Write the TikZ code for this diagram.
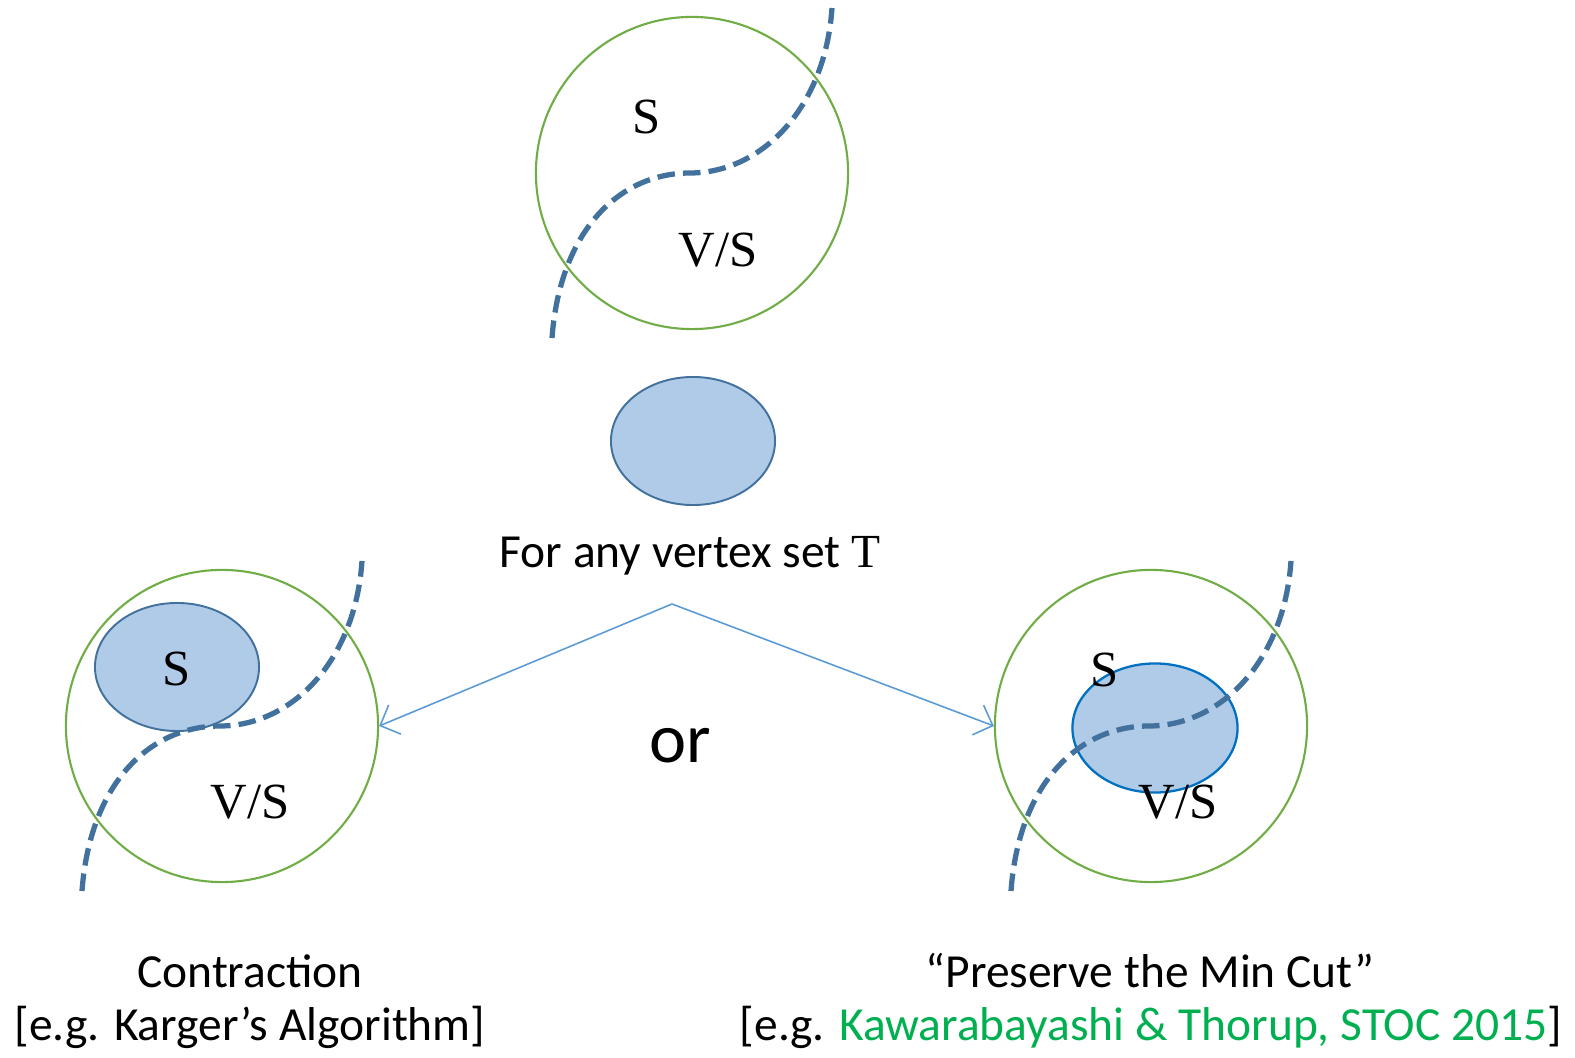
\documentclass[tikz,border=0pt]{standalone}
\usepackage{fontspec}
\setmainfont{Liberation Serif}
\newfontfamily\labelsans{Carlito}
\usetikzlibrary{shapes.geometric,arrows.meta}
\definecolor{ringgreen}{HTML}{70AD47}
\definecolor{cutblue}{HTML}{41719C}
\definecolor{blobfill}{HTML}{AFCBE8}
\definecolor{blobedge}{HTML}{0070C0}
\definecolor{arrowblue}{HTML}{5B9BD5}
\definecolor{refgreen}{HTML}{00B050}
\begin{document}
\begin{tikzpicture}[x=0.01cm,y=-0.01cm,
  ring/.style={circle,draw=ringgreen,line width=0.6pt,minimum size=3.12cm,inner sep=0pt},
  blob/.style={ellipse,draw=cutblue,fill=blobfill,line width=0.55pt,minimum width=1.64cm,minimum height=1.28cm,inner sep=0pt},
  cutline/.style={draw=cutblue,line width=1.5pt,dash pattern=on 5pt off 2.3pt},
  cutpath/.pic={\draw[cutline] (-140,165) .. controls (-132,57) and (-72,0) .. (-2,0)
                  .. controls (68,0) and (133,-63) .. (140,-165);},
  setlabel/.style={font=\fontsize{14.4}{17}\selectfont},
  caption/.style={font=\labelsans\fontsize{13.5}{16}\selectfont,anchor=base},
  choice/.style={draw=arrowblue,line width=0.45pt,-{Straight Barb[length=4.5pt,width=9pt]}}
]
\useasboundingbox (0,0) rectangle (1575,1058);

% top: a cut (S, V/S) of the whole graph
\node[ring] (top) at (692,173) {};
\pic at (top.center) {cutpath};
\node[setlabel] (topS) at (647,117) {S};
\node[setlabel] (topVS) at (718,250) {V/S};

% the vertex set T
\node[blob] (T) at (693,441) {};
\node[caption] (tlabel) at (690,568) {For any vertex set {\rmfamily T}};

% left: T lies on one side of the cut
\node[ring] (left) at (222,726) {};
\node[blob] (leftT) at (177,667) {};
\pic at (left.center) {cutpath};
\node[setlabel] (leftS) at (177,669) {S};
\node[setlabel] (leftVS) at (250,802) {V/S};

% right: the cut splits T
\node[ring] (right) at (1151,726) {};
\node[blob,draw=blobedge,line width=0.65pt,minimum width=1.65cm,minimum height=1.29cm] (rightT) at (1155,728) {};
\pic at (right.center) {cutpath};
\node[setlabel] (rightS) at (1105,670) {S};
\node[setlabel] (rightVS) at (1178,802) {V/S};

% the two cases
\coordinate (fork) at (672,604);
\draw[choice] (fork) -- (left.east);
\draw[choice] (fork) -- (right.west);
\node[font=\labelsans\fontsize{20}{24}\selectfont,anchor=base] (or) at (680,762) {or};

% captions
\node[caption] (leftcap) at (250,987) {Contraction};
\node[caption] (leftref) at (250,1040) {[e.g. Karger’s Algorithm]};
\node[caption] (rightcap) at (1150,987) {“Preserve the Min Cut”};
\node[caption] (rightref) at (1151,1040) {[e.g. \textcolor{refgreen}{Kawarabayashi \& Thorup, STOC 2015}]};
\end{tikzpicture}
\end{document}
